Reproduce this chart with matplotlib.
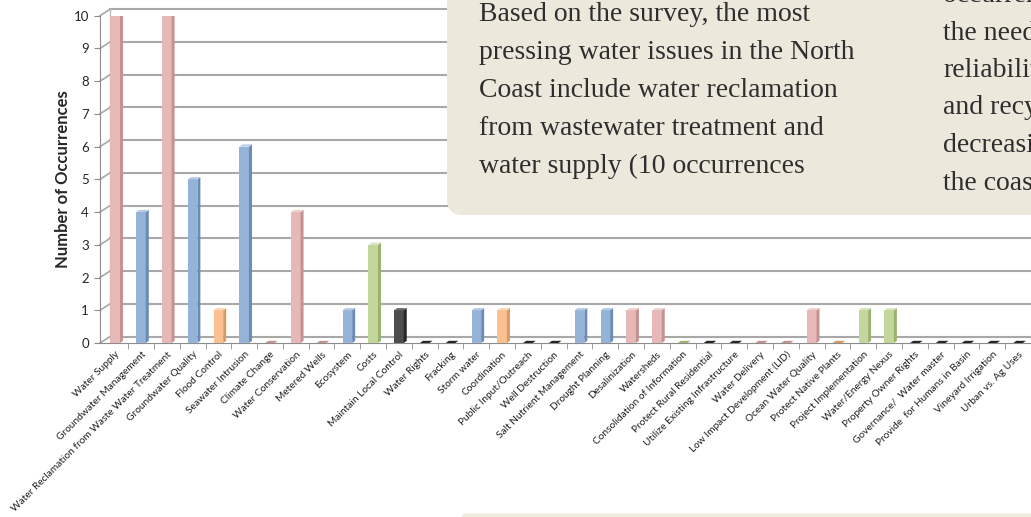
import matplotlib
matplotlib.use('Agg')
import matplotlib.pyplot as plt
from matplotlib.patches import Polygon, Rectangle, FancyBboxPatch
import numpy as np

plt.rcParams['font.family'] = ['Lato', 'DejaVu Sans']

# survey issues and number of occurrences
categories = ['Water Supply', 'Groundwater Management',
              'Water Reclamation from Waste Water Treatment', 'Groundwater Quality',
              'Flood Control', 'Seawater Intrusion', 'Climate Change',
              'Water Conservation', 'Metered Wells', 'Ecosystem', 'Costs',
              'Maintain Local Control', 'Water Rights', 'Fracking', 'Storm water',
              'Coordination', 'Public Input/Outreach', 'Well Destruction',
              'Salt Nutrient Management', 'Drought Planning', 'Desalinization',
              'Watersheds', 'Consolidation of Information', 'Protect Rural Residential',
              'Utilize Existing Infrastructure', 'Water Delivery',
              'Low Impact Development (LID)', 'Ocean Water Quality',
              'Protect Native Plants', 'Project Implementation', 'Water/Energy Nexus',
              'Property Owner Rights', 'Governance/  Water master',
              'Provide  for Humans in Basin', 'Vineyard Irrigation', 'Urban vs. Ag Uses']
counts = [10, 4, 10, 5, 1, 6, 0, 4, 0, 1, 3, 1, 0, 0, 1, 1, 0, 0, 1, 1, 1, 1,
          0, 0, 0, 0, 0, 1, 0, 1, 1, 0, 0, 0, 0, 0]
groups = ['pink', 'blue', 'pink', 'blue', 'orange', 'blue', 'pink', 'pink', 'pink',
          'blue', 'green', 'dark', 'dark', 'dark', 'blue', 'orange', 'dark', 'dark',
          'blue', 'blue', 'pink', 'pink', 'green', 'dark', 'dark', 'pink', 'pink',
          'pink', 'orange', 'green', 'green', 'dark', 'dark', 'dark', 'dark', 'dark']

# front, side, top colours
palette = {
    'pink':   ('#E6B9B8', '#C49391', '#EFD0CF'),
    'blue':   ('#95B3D7', '#6A8BB8', '#B5CBE6'),
    'orange': ('#FAC090', '#D99A64', '#FCD5B4'),
    'green':  ('#C3D69B', '#9BB26E', '#D7E4BD'),
    'dark':   ('#4D4D4D', '#262626', '#6B6B6B'),
}

col1 = ['Based on the survey, the most',
        'pressing water issues in the North',
        'Coast include water reclamation',
        'from wastewater treatment and',
        'water supply (10 occurrences']
col2 = ['occurrences', 'the need', 'reliabilit', 'and recy', 'decreasi', 'the coas']

W, H = 1031, 517
fig = plt.figure(figsize=(W / 100, H / 100), dpi=100)
ax = fig.add_axes([100 / W, (H - 343) / H, (W - 100) / W, (343 - 15.7) / H])

x0 = -0.59
x1 = 35.41
ax.set_xlim(x0, x1)
ax.set_ylim(0, 10)

# back wall offset (3d look)
dxw = 10 / 25.86
dyw = 6.4 / 32.73
for v in range(0, 11):
    ax.plot([x0 + dxw, x1 + 1], [v + dyw, v + dyw], color='#A8A8A8', lw=1.5,
            zorder=1, clip_on=False)
    ax.plot([x0, x0 + dxw], [v, v + dyw], color='#A8A8A8', lw=1.2, zorder=1,
            clip_on=False)
ax.plot([x0 + dxw, x0 + dxw], [dyw, 10 + dyw], color='#BDBDBD', lw=1.0, zorder=1,
        clip_on=False)

# bars with side and top faces
bw = 0.37
sx = 3 / 25.86
sy = 2.2 / 32.73
for i, (v, g) in enumerate(zip(counts, groups)):
    front, side, top = palette[g]
    l, r = i - bw / 2, i + bw / 2
    ax.add_patch(Rectangle((l, 0), bw, v, facecolor=front, edgecolor='none', zorder=3))
    ax.add_patch(Polygon([(r, 0), (r + sx, sy), (r + sx, v + sy), (r, v)],
                         closed=True, facecolor=side, edgecolor='none', zorder=3))
    ax.add_patch(Polygon([(l, v), (l + sx, v + sy), (r + sx, v + sy), (r, v)],
                         closed=True, facecolor=top if v > 0 else side,
                         edgecolor='none', zorder=3))

for s in ['top', 'right']:
    ax.spines[s].set_visible(False)
ax.spines['left'].set_color('#8C8C8C')
ax.spines['bottom'].set_color('#8C8C8C')

ax.set_yticks(range(0, 11))
ax.tick_params(axis='y', length=4, color='#8C8C8C', labelsize=9.5,
               labelcolor='#262626', pad=4)
ax.set_xticks(range(len(categories)))
ax.set_xticklabels(categories, rotation=45, ha='right', va='top',
                   rotation_mode='anchor', fontsize=7.3, color='#1E1E1E')
ax.tick_params(axis='x', which='major', length=0, pad=5)
ax.set_xticks(np.arange(len(categories)) + 0.5, minor=True)
ax.tick_params(axis='x', which='minor', length=4, color='#8C8C8C')

ax.set_ylabel('Number of Occurrences', fontsize=12, fontweight='bold',
              color='#262626')
ax.yaxis.set_label_coords(-0.031, 0.5)

# overlaid text box from the page, in pixel coordinates
ov = fig.add_axes([0, 0, 1, 1], zorder=5)
ov.set_xlim(0, W)
ov.set_ylim(H, 0)
ov.axis('off')
ov.patch.set_alpha(0)
ov.add_patch(FancyBboxPatch((447, -40), 700, 255,
                            boxstyle='round,pad=0,rounding_size=16',
                            facecolor='#ECE9DC', edgecolor='none'))
ov.add_patch(FancyBboxPatch((462, 513.5), 700, 30,
                            boxstyle='round,pad=0,rounding_size=4',
                            facecolor='#ECEBDD', edgecolor='none'))
for k, line in enumerate(col1):
    ov.text(479, 21 + 38 * k, line, fontsize=20, family='Liberation Serif',
            color='#2E2E2E', va='baseline', ha='left', clip_on=True)
for k, line in enumerate(col2):
    ov.text(943, 2 + 37.5 * k, line, fontsize=20, family='Liberation Serif',
            color='#2E2E2E', va='baseline', ha='left', clip_on=True)

fig.savefig('out.png', dpi=100)
